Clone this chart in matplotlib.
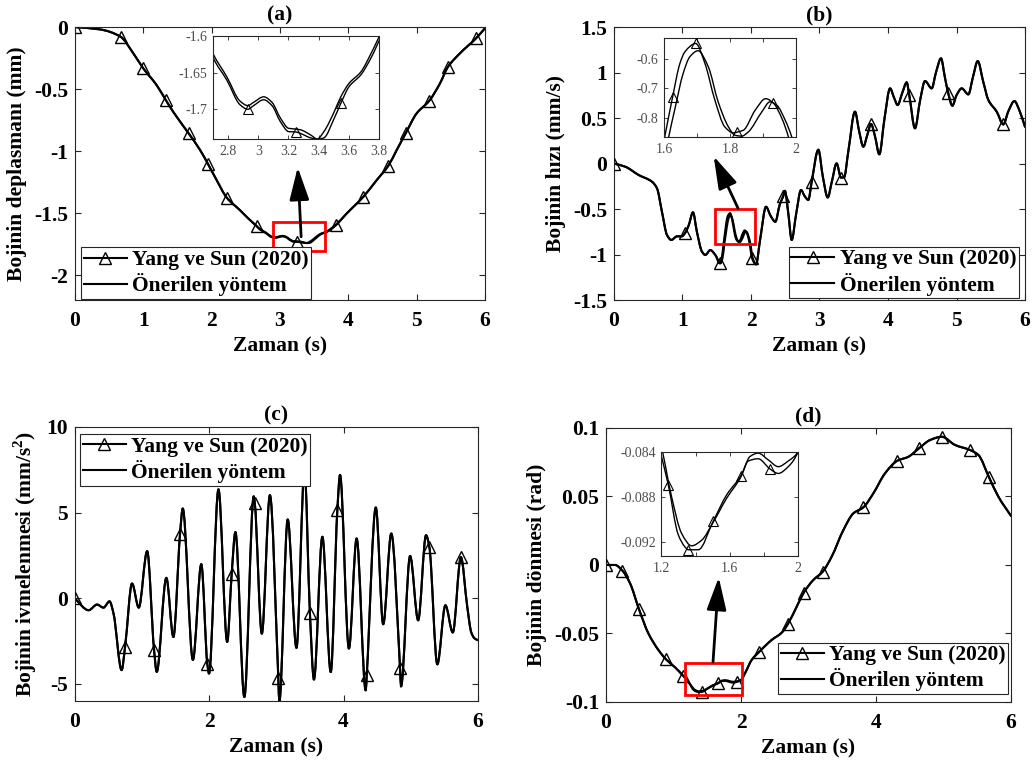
import numpy as np
import matplotlib
matplotlib.use('Agg')
import matplotlib.pyplot as plt
from matplotlib.patches import Rectangle, PathPatch
from matplotlib.path import Path
from matplotlib.lines import Line2D

plt.rcParams['font.family'] = ['Liberation Serif', 'DejaVu Serif']
plt.rcParams['font.weight'] = 'bold'
plt.rcParams['axes.unicode_minus'] = False
plt.rcParams['mathtext.fontset'] = 'custom'
plt.rcParams['mathtext.rm'] = 'Liberation Serif:bold'
plt.rcParams['mathtext.bf'] = 'Liberation Serif:bold'

# ---------------- (a) displacement ----------------
a_pre_t = [0, 0.366, 0.668, 0.854, 1.0, 1.195, 1.33, 1.44, 1.664, 1.83, 1.95, 2.074, 2.22, 2.415, 2.537, 2.66]
a_pre_v = [0, -0.019, -0.078, -0.212, -0.333, -0.468, -0.589, -0.685, -0.857, -0.99, -1.107, -1.234, -1.374, -1.476, -1.543, -1.605]
a_mid_t = [2.702, 2.791, 2.88, 2.931, 2.969, 3.036, 3.091, 3.147, 3.202, 3.25,
           3.28, 3.347, 3.391, 3.435, 3.502, 3.547, 3.602, 3.68, 3.747, 3.82]
a_mid_yang = [-1.630, -1.660, -1.694, -1.700, -1.695, -1.687, -1.695, -1.717, -1.7305, -1.731,
              -1.733, -1.739, -1.741, -1.739, -1.713, -1.692, -1.669, -1.653, -1.630, -1.597]
a_mid_prop = [-1.625, -1.6555, -1.689, -1.695, -1.6905, -1.683, -1.6905, -1.712, -1.726, -1.727,
              -1.728, -1.735, -1.7405, -1.7305, -1.704, -1.683, -1.6645, -1.649, -1.624, -1.592]
a_post_t = [3.976, 4.22, 4.415, 4.585, 4.708, 4.844, 5.0, 5.185, 5.342, 5.454, 5.634, 5.869, 6.0]
a_post_v = [-1.503, -1.368, -1.234, -1.118, -0.992, -0.852, -0.696, -0.594, -0.454, -0.325, -0.212, -0.091, -0.01]
a_marks = [0, 0.668, 1.0, 1.33, 1.664, 1.95, 2.22, 2.66, 3.25, 3.82, 4.22, 4.585, 4.844, 5.185, 5.454, 5.869]
a_marks_in = [2.931, 3.25, 3.547]

# ---------------- (b) velocity ----------------
b_pre_t = [0, 0.165, 0.36, 0.555, 0.628, 0.70, 0.774, 0.837, 0.92, 0.99, 1.036, 1.09, 1.153, 1.21, 1.285, 1.333, 1.406, 1.479]
b_pre_v = [0, -0.035, -0.126, -0.2, -0.273, -0.53, -0.786, -0.84, -0.80, -0.80, -0.765, -0.68, -0.536, -0.749, -0.969, -1.005, -0.951, -1.005]
b_yang_t = [1.543, 1.572, 1.602, 1.626, 1.648, 1.663, 1.696, 1.724, 1.754, 1.784,
            1.81, 1.822, 1.84, 1.876, 1.908, 1.931, 1.957, 1.977, 2.015]
b_yang_v = [-1.097, -1.04, -0.867, -0.729, -0.614, -0.574, -0.545, -0.614, -0.740, -0.832,
            -0.853, -0.850, -0.844, -0.775, -0.735, -0.75, -0.803, -0.867, -1.04]
b_prop_t = [1.555, 1.584, 1.614, 1.632, 1.658, 1.678, 1.703, 1.734, 1.764, 1.795,
            1.815, 1.835, 1.855, 1.896, 1.921, 1.942, 1.967, 1.987, 2.025]
b_prop_v = [-1.097, -1.04, -0.867, -0.775, -0.648, -0.591, -0.570, -0.625, -0.746, -0.832,
            -0.861, -0.864, -0.850, -0.781, -0.746, -0.758, -0.809, -0.867, -1.04]
b_post_t = [2.073, 2.136, 2.219, 2.29, 2.355, 2.42, 2.47, 2.495, 2.545, 2.594,
            2.66, 2.73, 2.785, 2.837, 2.886, 2.983, 3.05, 3.12, 3.18, 3.25,
            3.314, 3.36, 3.42, 3.518, 3.58, 3.64, 3.70, 3.752, 3.81, 3.873,
            3.95, 4.03, 4.09, 4.14, 4.21, 4.273, 4.31, 4.394, 4.47, 4.54,
            4.638, 4.70, 4.774, 4.83, 4.88, 4.94, 5.0, 5.076, 5.173, 5.24,
            5.31, 5.39, 5.465, 5.587, 5.683, 5.76, 5.845, 5.92, 6.0]
b_post_v = [-1.108, -0.822, -0.475, -0.58, -0.64, -0.45, -0.36, -0.30, -0.55, -0.84,
            -0.55, -0.291, -0.36, -0.40, -0.2, 0.152, -0.15, -0.373, -0.2, 0.002,
            -0.155, -0.15, 0.13, 0.57, 0.35, 0.185, 0.32, 0.435, 0.3, 0.101,
            0.5, 0.826, 0.72, 0.643, 0.78, 0.892, 0.753, 0.387, 0.7, 0.907,
            0.826, 1.0, 1.156, 0.95, 0.771, 0.635, 0.75, 0.826, 0.76, 0.95,
            1.126, 0.9, 0.698, 0.57, 0.43, 0.58, 0.687, 0.58, 0.404]
b_marks = [0, 1.036, 1.543, 2.015, 2.47, 2.886, 3.314, 3.752, 4.31, 4.88, 5.683]
b_marks_in = [1.626, 1.696, 1.822, 1.931]

# ---------------- (c) acceleration ----------------
c_t = [0, 0.21, 0.335, 0.43, 0.52, 0.58, 0.70, 0.751, 0.855, 0.955,
       1.08, 1.182, 1.222, 1.365, 1.47, 1.569, 1.609, 1.76, 1.885, 1.975,
       2.0, 2.14, 2.27, 2.337, 2.392, 2.525, 2.665, 2.68, 2.785, 2.905,
       3.03, 3.045, 3.17, 3.30, 3.42, 3.50, 3.56, 3.685, 3.81, 3.908,
       3.948, 4.08, 4.195, 4.33, 4.345, 4.48, 4.59, 4.71, 4.84, 4.855,
       4.99, 5.11, 5.227, 5.276, 5.395, 5.515, 5.625, 5.745, 5.84, 5.9,
       5.95, 6.0]
c_yang = [0, -0.7, -0.37, -0.55, -0.18, -0.9, -4.2, -2.85, 0.86, -0.55,
          2.75, -3.0, -4.3, 1.19, -2.26, 3.78, 5.24, -3.6, 1.99, -3.86,
          -4.4, 6.36, -2.55, 1.44, 3.86, -5.77, 5.95, 5.57, -2.07, 6.02,
          -4.66, -6.06, 4.6, -2.9, 7.5, -0.86, -4.75, 3.59, -4.31, 5.15,
          7.2, -2.94, 3.49, -5.38, -4.5, 5.3, -1.52, 3.78, -4.05, -5.15,
          2.47, -1.29, 3.68, 3.0, -3.86, -0.41, -2.0, 2.4, -0.5, -2.0,
          -2.35, -2.45]
c_prop = list(c_yang)
c_marks = [0, 0.751, 1.182, 1.569, 1.975, 2.337, 2.68, 3.03, 3.50, 3.908, 4.345, 4.84, 5.276, 5.745]

# ---------------- (d) rotation ----------------
d_pre_t = [0, 0.133, 0.242, 0.356, 0.489, 0.627, 0.775, 0.889, 1.022, 1.145]
d_pre_v = [0, 0.0, -0.0041, -0.0134, -0.0324, -0.0499, -0.062, -0.0689, -0.0747, -0.081]
d_yang_t = [1.2, 1.24, 1.298, 1.338, 1.357, 1.416, 1.504, 1.582, 1.666, 1.709, 1.767, 1.836, 1.885, 1.943, 2.0]
d_yang_v = [-0.0844, -0.0869, -0.0913, -0.0924, -0.09265, -0.09265, -0.0901, -0.0878, -0.0861, -0.0848,
            -0.0846, -0.0855, -0.0859, -0.0853, -0.0840]
d_prop_t = [1.2, 1.26, 1.318, 1.377, 1.436, 1.504, 1.582, 1.666, 1.719, 1.767, 1.826, 1.885, 1.943, 2.0]
d_prop_v = [-0.0836, -0.088, -0.0912, -0.0923, -0.0918, -0.0902, -0.0881, -0.0862, -0.0844, -0.0841,
            -0.0847, -0.0853, -0.0848, -0.0840]
d_post_t = [2.059, 2.158, 2.271, 2.455, 2.603, 2.691, 2.825, 2.929, 3.07, 3.21,
            3.343, 3.516, 3.664, 3.812, 3.96, 4.133, 4.316, 4.479, 4.637, 4.8,
            4.973, 5.17, 5.393, 5.516, 5.674, 5.812, 6.0]
d_post_v = [-0.079, -0.0693, -0.0633, -0.0547, -0.0494, -0.0433, -0.0304, -0.0202, -0.011, -0.0049,
            0.0061, 0.0255, 0.0377, 0.0421, 0.0523, 0.0669, 0.0761, 0.079, 0.0852, 0.0912,
            0.0936, 0.0876, 0.0839, 0.0803, 0.064, 0.0499, 0.0358]
d_marks = [0, 0.242, 0.489, 0.889, 1.145, 1.416, 1.666, 1.943, 2.271, 2.691, 2.929, 3.21,
           3.812, 4.316, 4.637, 4.973, 5.393, 5.674]
d_marks_in = [1.24, 1.357, 1.504, 1.666, 1.836]

# assemble full series
a_t = a_pre_t + a_mid_t + a_post_t
a_yang = a_pre_v + a_mid_yang + a_post_v
a_prop = a_pre_v + a_mid_prop + a_post_v
b_t1 = b_pre_t + b_yang_t + b_post_t
b_v1 = b_pre_v + b_yang_v + b_post_v
b_t2 = b_pre_t + b_prop_t + b_post_t
b_v2 = b_pre_v + b_prop_v + b_post_v
d_t1 = d_pre_t + d_yang_t + d_post_t
d_v1 = d_pre_v + d_yang_v + d_post_v
d_t2 = d_pre_t + d_prop_t + d_post_t
d_v2 = d_pre_v + d_prop_v + d_post_v

FS = 15.5
AXC = '#262626'
MS = 8.5
LAB1 = 'Yang ve Sun (2020)'
LAB2 = 'Önerilen yöntem'

fig = plt.figure(figsize=(10.34, 7.64), dpi=100)


def smooth_line(ax, x, y, lw):
    x = np.asarray(x, float)
    y = np.asarray(y, float)
    h = np.diff(x)
    d = np.diff(y) / h
    m = np.zeros_like(y)
    for i in range(1, len(x) - 1):
        if d[i - 1] * d[i] > 0:
            w1 = 2 * h[i] + h[i - 1]
            w2 = h[i] + 2 * h[i - 1]
            m[i] = (w1 + w2) / (w1 / d[i - 1] + w2 / d[i])
    m[0] = d[0]
    m[-1] = d[-1]
    verts = [(x[0], y[0])]
    codes = [Path.MOVETO]
    for i in range(len(x) - 1):
        verts += [(x[i] + h[i] / 3, y[i] + m[i] * h[i] / 3),
                  (x[i + 1] - h[i] / 3, y[i + 1] - m[i + 1] * h[i] / 3),
                  (x[i + 1], y[i + 1])]
        codes += [Path.CURVE4] * 3
    ax.add_patch(PathPatch(Path(verts, codes), facecolor='none', edgecolor='k',
                           lw=lw, joinstyle='round', capstyle='round', zorder=2))


def main_panel(pos, t1, v1, mk, t2, v2, xlim, ylim, xticks, yticks, ylabels, title, ylabel):
    ax = fig.add_axes(pos)
    smooth_line(ax, t2, v2, 1.5)
    smooth_line(ax, t1, v1, 1.5)
    ax.plot(t1, v1, ls='none', marker='^', markevery=[t1.index(m) for m in mk],
            ms=MS, mfc='none', mec='k', mew=1.0, zorder=3)
    ax.set_xlim(xlim)
    ax.set_ylim(ylim)
    ax.set_xticks(xticks)
    ax.set_xticklabels([('%g' % x) for x in xticks], fontsize=FS, fontweight='bold')
    ax.set_yticks(yticks)
    ax.set_yticklabels(ylabels, fontsize=FS, fontweight='bold')
    ax.tick_params(direction='in', top=True, right=True, length=4, width=0.8, color=AXC)
    ax.tick_params(axis='x', pad=8)
    ax.tick_params(axis='y', pad=5)
    for s in ax.spines.values():
        s.set_color(AXC)
        s.set_linewidth(0.8)
    ax.set_title(title, fontsize=FS, fontweight='bold', pad=5)
    ax.set_xlabel('Zaman (s)', fontsize=FS, fontweight='bold', labelpad=4)
    ax.set_ylabel(ylabel, fontsize=FS, fontweight='bold', labelpad=5)
    return ax


def legend(ax, loc, anchor):
    handles = [Line2D([], [], color='k', lw=1.5, marker='^', ms=MS, mfc='none', mec='k', mew=1.0),
               Line2D([], [], color='k', lw=1.5)]
    leg = ax.legend(handles, [LAB1, LAB2], loc=loc, bbox_to_anchor=anchor, borderaxespad=0,
                    fancybox=False, framealpha=1, edgecolor=AXC,
                    prop={'size': FS, 'weight': 'bold'},
                    handlelength=2.0, handletextpad=0.25, borderpad=0.12, labelspacing=0.15)
    leg.get_frame().set_linewidth(0.8)
    leg.set_zorder(10)


def inset(pos, t1, v1, mk, t2, v2, xlim, ylim, xticks, xlabels, yticks, ylabels):
    ins = fig.add_axes(pos)
    smooth_line(ins, t1, v1, 1.0)
    smooth_line(ins, t2, v2, 1.0)
    ins.plot(t1, v1, ls='none', marker='^', markevery=[t1.index(m) for m in mk],
             ms=6.5, mfc='none', mec='k', mew=0.8, zorder=3)
    ins.set_xlim(xlim)
    ins.set_ylim(ylim)
    ins.set_xticks(xticks)
    ins.set_xticklabels(xlabels, fontsize=10, fontweight='normal', color='#4d4d4d')
    ins.set_yticks(yticks)
    ins.set_yticklabels(ylabels, fontsize=10, fontweight='normal', color='#4d4d4d')
    ins.tick_params(direction='in', top=True, right=True, length=3, width=0.6, color=AXC)
    ins.tick_params(axis='x', pad=4)
    ins.tick_params(axis='y', pad=4)
    for s in ins.spines.values():
        s.set_color(AXC)
        s.set_linewidth(0.8)
    return ins


def zoom_mark(ax, rect, tail, tip):
    ax.add_patch(Rectangle((rect[0], rect[1]), rect[2], rect[3], fill=False,
                           edgecolor='red', lw=2.0, zorder=6, clip_on=False))
    ax.annotate('', xy=tip, xytext=tail,
                arrowprops=dict(arrowstyle='-|>,head_length=1.0,head_width=0.3',
                                lw=2.0, color='k', shrinkA=0, shrinkB=0, mutation_scale=20),
                zorder=7)


# (a)
axa = main_panel([0.0725, 0.6073, 0.3965, 0.3573], a_t, a_yang, a_marks, a_t, a_prop,
                 (0, 6), (-2.2, 0), [0, 1, 2, 3, 4, 5, 6],
                 [0, -0.5, -1, -1.5, -2], ['0', '-0.5', '-1', '-1.5', '-2'],
                 '(a)', 'Bojinin deplasmanı (mm)')
legend(axa, 'lower left', (0.0146, 0.004))
zoom_mark(axa, (2.90, -1.804, 0.76, 0.234), (3.31, -1.69), (3.26, -1.13))
inset([0.206, 0.8181, 0.1605, 0.1348], a_t, a_yang, a_marks_in, a_t, a_prop,
      (2.7, 3.8), (-1.7405, -1.6), [2.8, 3.0, 3.2, 3.4, 3.6, 3.8],
      ['2.8', '3', '3.2', '3.4', '3.6', '3.8'], [-1.7, -1.65, -1.6], ['-1.7', '-1.65', '-1.6'])

# (b)
axb = main_panel([0.5938, 0.6073, 0.3975, 0.3573], b_t1, b_v1, b_marks, b_t2, b_v2,
                 (0, 6), (-1.5, 1.5), [0, 1, 2, 3, 4, 5, 6],
                 [-1.5, -1, -0.5, 0, 0.5, 1, 1.5], ['-1.5', '-1', '-0.5', '0', '0.5', '1', '1.5'],
                 '(b)', 'Bojinin hızı (mm/s)')
legend(axb, 'lower right', (0.985, 0.007))
zoom_mark(axb, (1.48, -0.885, 0.575, 0.382), (1.81, -0.49), (1.455, 0.08))
inset([0.6422, 0.8207, 0.1277, 0.1296], b_t1, b_v1, b_marks_in, b_t2, b_v2,
      (1.6, 2.0), (-0.867, -0.526), [1.6, 1.7, 1.8, 1.9, 2.0],
      ['1.6', '', '1.8', '', '2'], [-0.8, -0.7, -0.6], ['-0.8', '-0.7', '-0.6'])

# (c)
axc = main_panel([0.0721, 0.0825, 0.3902, 0.3586], c_t, c_yang, c_marks, c_t, c_prop,
                 (0, 6), (-6, 10), [0, 2, 4, 6],
                 [-5, 0, 5, 10], ['-5', '0', '5', '10'],
                 '(c)', r'Bojinin ivmelenmesi (mm/s$^{\mathbf{2}}$)')
legend(axc, 'upper left', (0.0136, 0.974))

# (d)
axd = main_panel([0.5861, 0.0812, 0.3917, 0.3586], d_t1, d_v1, d_marks, d_t2, d_v2,
                 (0, 6), (-0.1, 0.1), [0, 2, 4, 6],
                 [-0.1, -0.05, 0, 0.05, 0.1], ['-0.1', '-0.05', '0', '0.05', '0.1'],
                 '(d)', 'Bojinin dönmesi (rad)')
legend(axd, 'lower right', (0.993, 0.029))
zoom_mark(axd, (1.17, -0.0949, 0.85, 0.0236), (1.585, -0.0708), (1.67, -0.009))
inset([0.6397, 0.2723, 0.1320, 0.1361], d_t1, d_v1, d_marks_in, d_t2, d_v2,
      (1.2, 2.0), (-0.0932, -0.084), [1.2, 1.4, 1.6, 1.8, 2.0],
      ['1.2', '', '1.6', '', '2'], [-0.092, -0.088, -0.084], ['-0.092', '-0.088', '-0.084'])

fig.savefig('out.png', dpi=100)
